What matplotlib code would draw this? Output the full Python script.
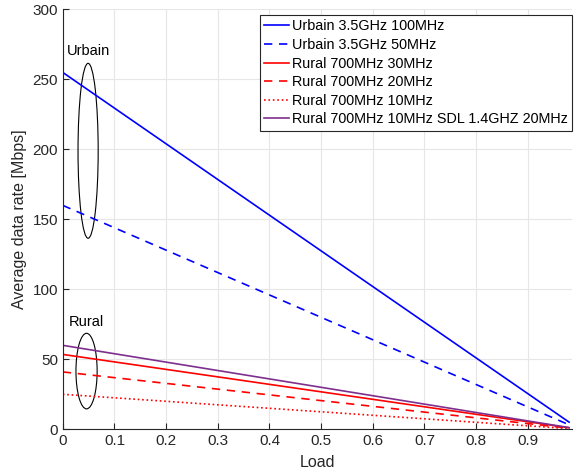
import numpy as np
import matplotlib
matplotlib.use('Agg')
import matplotlib.pyplot as plt
from matplotlib.patches import Ellipse

plt.rcParams['font.family'] = ['Liberation Sans', 'DejaVu Sans']

# Data: average rate falls linearly with load, two end points per curve
load = [0, 0.98]
urbain_100 = [255, 5.1]
urbain_50 = [160, 3.2]
rural_30 = [53.5, 1.1]
rural_20 = [41, 0.8]
rural_10 = [25, 0.5]
rural_sdl = [60, 1.2]

labels = ['Urbain 3.5GHz 100MHz', 'Urbain 3.5GHz 50MHz', 'Rural 700MHz 30MHz',
          'Rural 700MHz 20MHz', 'Rural 700MHz 10MHz',
          'Rural 700MHz 10MHz SDL 1.4GHZ 20MHz']

fig = plt.figure(figsize=(5.76, 4.73), dpi=100)
ax = fig.add_axes([0.109, 0.0924, 0.8835, 0.8876])

ax.plot(load, urbain_100, '-', color='#0000ff', lw=1.2, label=labels[0])
ax.plot(load, urbain_50, '--', color='#0000ff', lw=1.2, dashes=(5, 4), label=labels[1])
ax.plot(load, rural_30, '-', color='#ff0000', lw=1.2, label=labels[2])
ax.plot(load, rural_20, '--', color='#ff0000', lw=1.2, dashes=(5, 4), label=labels[3])
ax.plot(load, rural_10, ':', color='#ff0000', lw=1.2, label=labels[4])
ax.plot(load, rural_sdl, '-', color='#7e2f8e', lw=1.2, label=labels[5])

# ellipses marking the two groups
ax.add_patch(Ellipse((0.049, 199), 0.039, 125, fill=False, ec='black', lw=0.8))
ax.add_patch(Ellipse((0.046, 41.6), 0.041, 54, fill=False, ec='black', lw=0.8))
ax.text(0.05, 270, 'Urbain', ha='center', va='center', fontsize=10.5)
ax.text(0.046, 77, 'Rural', ha='center', va='center', fontsize=10.5)

ax.set_xlim(0, 0.985)
ax.set_ylim(0, 300)
ax.set_xticks(np.arange(0, 1.0, 0.1))
ax.set_xticklabels(['0', '0.1', '0.2', '0.3', '0.4', '0.5', '0.6', '0.7', '0.8', '0.9'])
ax.set_yticks(np.arange(0, 301, 50))
ax.set_xlabel('Load', fontsize=11.5, color='#262626', labelpad=5)
ax.set_ylabel('Average data rate [Mbps]', fontsize=11.5, color='#262626', labelpad=4)
ax.grid(True, color='#e6e6e6', lw=0.8)
ax.set_axisbelow(True)
for s in ['top', 'right']:
    ax.spines[s].set_visible(False)
for s in ['left', 'bottom']:
    ax.spines[s].set_color('#262626')
    ax.spines[s].set_linewidth(0.8)
ax.tick_params(direction='in', length=4, width=0.8, colors='#262626', labelsize=11)

leg = ax.legend(loc='upper right', bbox_to_anchor=(1.0, 0.986), fontsize=10.4,
                frameon=True, fancybox=False, edgecolor='#262626', framealpha=1,
                borderaxespad=0.0, handlelength=1.7, labelspacing=0.32,
                borderpad=0.28, handletextpad=0.2)
leg.get_frame().set_linewidth(0.8)

fig.savefig('out.png', dpi=100)
